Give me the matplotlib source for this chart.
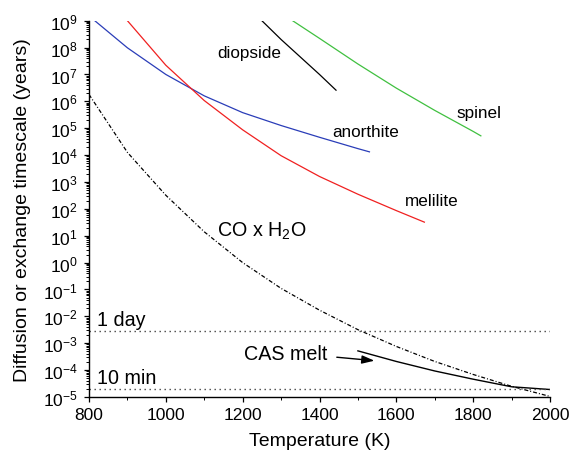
import numpy as np
import matplotlib
matplotlib.use("Agg")
import matplotlib.pyplot as plt
from matplotlib.ticker import LogLocator, MultipleLocator, NullFormatter

plt.rcParams['font.family'] = ['Liberation Sans', 'DejaVu Sans']
plt.rcParams['mathtext.fontset'] = 'custom'
plt.rcParams['mathtext.rm'] = 'Liberation Sans'
plt.rcParams['mathtext.it'] = 'Liberation Sans:italic'
plt.rcParams['mathtext.bf'] = 'Liberation Sans:bold'
plt.rcParams['mathtext.default'] = 'regular'

# ---- data (temperature in K, timescale in years) ----
anorthite_T = [815, 900, 1000, 1100, 1200, 1300, 1400, 1500, 1530]
anorthite_t = [1.0e9, 9.8e7, 1.0e7, 1.6e6, 3.8e5, 1.26e5, 4.6e4, 1.74e4, 1.32e4]

melilite_T = [900, 1000, 1100, 1200, 1300, 1400, 1500, 1600, 1673]
melilite_t = [1.0e9, 2.2e7, 1.07e6, 8.7e4, 9.5e3, 1.6e3, 3.5e2, 86, 32]

diopside_T = [1250, 1300, 1400, 1443]
diopside_t = [1.0e9, 2.0e8, 1.0e7, 2.6e6]

spinel_T = [1330, 1400, 1500, 1600, 1700, 1800, 1820]
spinel_t = [1.0e9, 2.2e8, 2.45e7, 3.1e6, 4.6e5, 7.6e4, 5.2e4]

coh2o_T = [800, 900, 1000, 1100, 1200, 1300, 1400, 1500, 1600, 1700, 1800, 1900, 2000]
coh2o_t = [1.8e6, 1.26e4, 3.2e2, 14, 1.0, 0.11, 1.7e-2, 3.2e-3, 7.6e-4,
           2.1e-4, 6.9e-5, 2.5e-5, 1.05e-5]

casmelt_T = [1500, 1600, 1700, 1800, 1900, 2000]
casmelt_t = [5.2e-4, 2.1e-4, 9.3e-5, 4.6e-5, 2.4e-5, 1.9e-5]

one_day = 1.0 / 365.25            # years
ten_min = 10.0 / (60 * 24 * 365.25)  # years

x_ticks = [800, 1000, 1200, 1400, 1600, 1800, 2000]

# ---- figure ----
fig = plt.figure(figsize=(5.79, 4.52), dpi=100)
ax = fig.add_axes([89 / 579, 1 - 398 / 452, 461 / 579, 376.3 / 452])

ax.plot(anorthite_T, anorthite_t, color='#2a3db8', lw=0.9)
ax.plot(melilite_T, melilite_t, color='#f02020', lw=0.9)
ax.plot(diopside_T, diopside_t, color='black', lw=0.9)
ax.plot(spinel_T, spinel_t, color='#40c040', lw=0.9)
ax.plot(coh2o_T, coh2o_t, color='black', lw=0.9, linestyle=(0, (3.2, 1.6, 0.8, 1.6)))
ax.plot(casmelt_T, casmelt_t, color='black', lw=1.0)

ax.axhline(one_day, color='#444444', lw=1.0, linestyle=(0, (1, 2.6)))
ax.axhline(ten_min, color='#444444', lw=1.0, linestyle=(0, (1, 2.6)))

ax.set_yscale('log')
ax.set_xlim(800, 2000)
ax.set_ylim(1e-5, 1e9)
ax.set_xticks(x_ticks)
ax.xaxis.set_minor_locator(MultipleLocator(100))
ax.yaxis.set_major_locator(LogLocator(base=10, numticks=30))
ax.yaxis.set_minor_locator(LogLocator(base=10, subs=np.arange(2, 10), numticks=30))
ax.yaxis.set_minor_formatter(NullFormatter())

for s in ['top', 'right']:
    ax.spines[s].set_visible(False)
for s in ['left', 'bottom']:
    ax.spines[s].set_linewidth(1.0)

ax.tick_params(axis='both', which='major', direction='out', length=3.5, width=0.9,
               labelsize=12.5, pad=3.5)
ax.tick_params(axis='both', which='minor', direction='out', length=2.0, width=0.7)
ax.tick_params(axis='y', which='major', pad=4.5)

ax.set_xlabel('Temperature (K)', fontsize=14)
ax.set_ylabel('Diffusion or exchange timescale (years)', fontsize=14)
ax.xaxis.set_label_coords(0.5, -0.092)
ax.yaxis.set_label_coords(-0.126, 0.5)

# labels
ax.text(1134, 10**7.82, 'diopside', fontsize=12.3, ha='left', va='center')
ax.text(1433, 10**4.89, 'anorthite', fontsize=12.3, ha='left', va='center')
ax.text(1757, 10**5.58, 'spinel', fontsize=12.3, ha='left', va='center')
ax.text(1623, 10**2.31, 'melilite', fontsize=12.3, ha='left', va='center')
ax.text(1132, 10**1.19, 'CO x H$_2$O', fontsize=14.2, ha='left', va='center')
ax.text(821, 10**-2.13, '1 day', fontsize=14.2, ha='left', va='center')
ax.text(820, 10**-4.27, '10 min', fontsize=14.2, ha='left', va='center')
ax.text(1203, 10**-3.40, 'CAS melt', fontsize=14.2, ha='left', va='center')

ax.annotate('', xy=(1543, 10**-3.65), xytext=(1445, 10**-3.52),
            arrowprops=dict(arrowstyle='-|>,head_length=0.75,head_width=0.25',
                            color='black', lw=1.0, mutation_scale=10,
                            shrinkA=0, shrinkB=0))

fig.savefig('out.png', dpi=100)
